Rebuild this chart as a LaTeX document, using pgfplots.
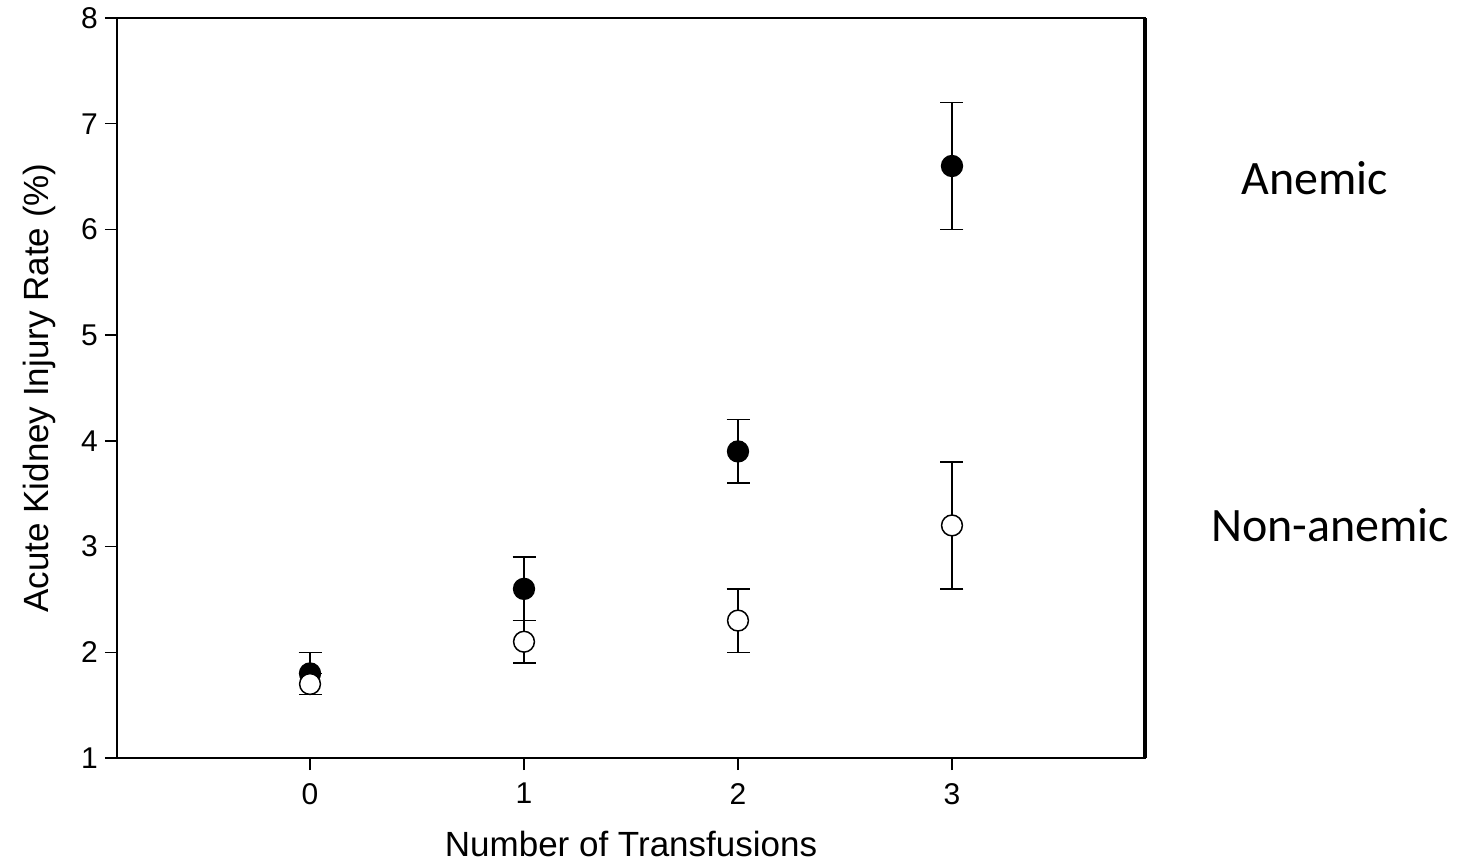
\documentclass[border=0pt]{standalone}
\usepackage{fontspec}
\setmainfont{Liberation Sans}
\newfontfamily\calibri{Carlito}
\usepackage{pgfplots}
\pgfplotsset{compat=1.18}

% AKI rate by number of transfusions: mean and error range
\pgfplotstableread{
x   y    err
0   1.8  0.2
1   2.6  0.3
2   3.9  0.3
3   6.6  0.6
}\anemic
\pgfplotstableread{
x   y    err
0   1.7  0.1
1   2.1  0.2
2   2.3  0.3
3   3.2  0.6
}\nonanemic

\begin{document}
\begin{tikzpicture}
\path[use as bounding box] (-58.5pt,-52.5pt) rectangle (675.5pt,379pt);
\begin{axis}[
  at={(0pt,0pt)}, anchor=south west,
  scale only axis,
  width=514pt, height=370pt,
  xmin=-0.902, xmax=3.902,
  ymin=1, ymax=8,
  xtick={0,1,2,3},
  ytick={1,2,3,4,5,6,7,8},
  tick align=outside,
  xtick pos=bottom, ytick pos=left,
  major tick length=6pt,
  tick style={black, line width=0.75pt},
  axis line style={line width=0.75pt},
  /pgf/number format/assume math mode=true,
  tick label style={font=\fontsize{15}{17}\selectfont},
  xticklabel style={yshift=-3pt},
  label style={font=\fontsize{17.5}{20}\selectfont},
  xlabel={Number of Transfusions},
  ylabel={Acute Kidney Injury Rate (\%)},
  xlabel style={yshift=-6.5pt},
  ylabel style={yshift=6pt},
  clip=false,
  every axis plot/.append style={line width=0.75pt},
  bars/.style={only marks, mark=none, black,
    error bars/.cd, y dir=both, y explicit,
    error mark options={rotate=90, mark size=5.75pt, line width=0.75pt},
    error bar style={line width=0.75pt}},
]
% error bars first, so the markers sit on top of them
\addplot[bars] table[x=x, y=y, y error=err] {\anemic};
\addplot[bars] table[x=x, y=y, y error=err] {\nonanemic};
\addplot[only marks, black, mark=*, mark size=5.2pt, mark options={fill=black}]
  table[x=x, y=y] {\anemic};
\addplot[only marks, black, mark=*, mark size=5.2pt, mark options={fill=white, draw=black}]
  table[x=x, y=y] {\nonanemic};
% heavier right frame
\draw[line width=1.6pt] (rel axis cs:1,0) -- (rel axis cs:1,1);
\node[font=\calibri\fontsize{24}{28}\selectfont] at (rel axis cs:1.165,0.784) {Anemic};
\node[font=\calibri\fontsize{24}{28}\selectfont] at (rel axis cs:1.18,0.315) {Non-anemic};
\end{axis}
\end{tikzpicture}
\end{document}
